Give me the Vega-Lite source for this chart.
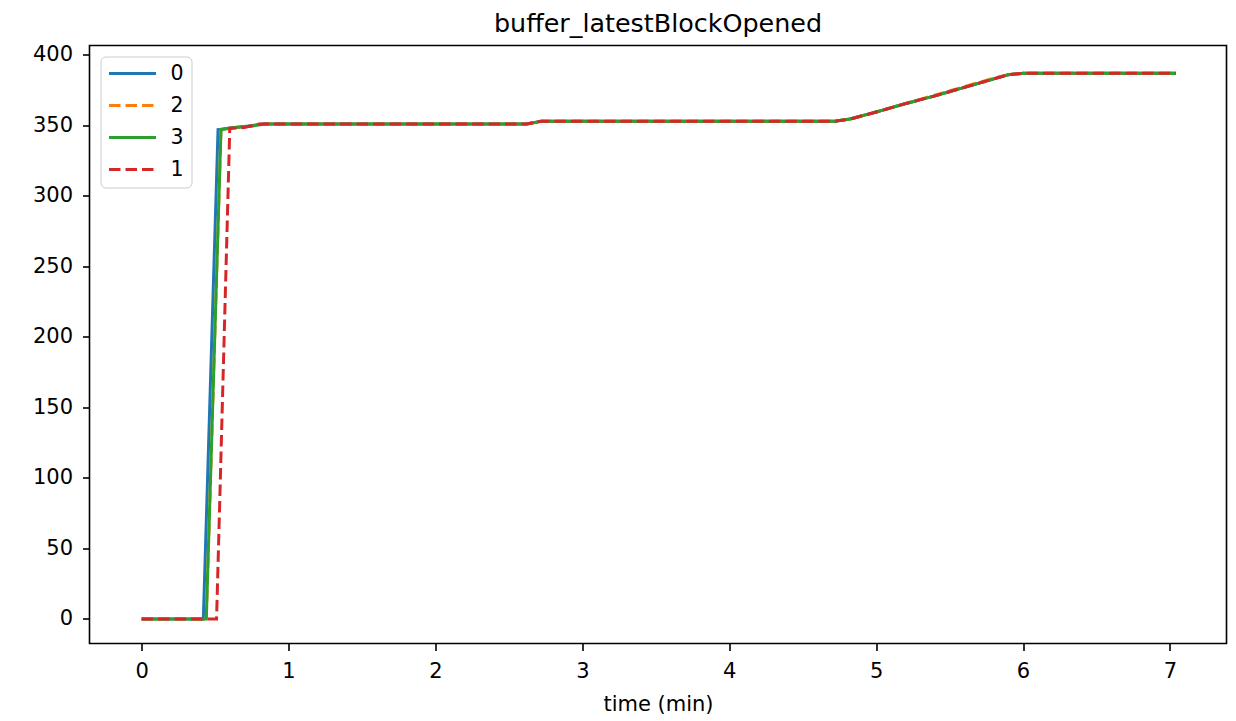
{
  "$schema": "https://vega.github.io/schema/vega-lite/v6.json",
  "width": 1137,
  "height": 598,
  "autosize": {"type": "none"},
  "padding": {"left": 89.5, "top": 45.5, "right": 9.5, "bottom": 77.5},
  "background": "white",
  "title": {"text": "buffer_latestBlockOpened", "font": "DejaVu Sans", "fontSize": 25.4, "fontWeight": "normal", "color": "black", "offset": 7},
  "config": {
    "view": {"stroke": "black", "strokeWidth": 1.6},
    "font": "DejaVu Sans",
    "axis": {"grid": false, "domain": false, "tickColor": "black", "tickSize": 7, "tickWidth": 1.6, "labelFont": "DejaVu Sans", "labelFontSize": 21, "labelColor": "black", "titleFont": "DejaVu Sans", "titleFontSize": 21, "titleFontWeight": "normal", "titleColor": "black", "labelPadding": 10, "titlePadding": 12}
  },
  "data": {"values": [
    {"t":0,"v":0,"s":"0"},{"t":0.42,"v":0,"s":"0"},{"t":0.52,"v":347,"s":"0"},{"t":0.62,"v":348.5,"s":"0"},{"t":0.72,"v":349.5,"s":"0"},{"t":0.82,"v":351,"s":"0"},{"t":2.62,"v":351,"s":"0"},{"t":2.72,"v":353,"s":"0"},{"t":4.72,"v":353,"s":"0"},{"t":4.82,"v":354.5,"s":"0"},{"t":5.0,"v":359.5,"s":"0"},{"t":5.2,"v":365.5,"s":"0"},{"t":5.4,"v":371,"s":"0"},{"t":5.6,"v":377,"s":"0"},{"t":5.8,"v":383,"s":"0"},{"t":5.9,"v":386,"s":"0"},{"t":6.0,"v":387,"s":"0"},{"t":7.04,"v":387,"s":"0"},
    {"t":0,"v":0,"s":"2"},{"t":0.44,"v":0,"s":"2"},{"t":0.54,"v":347,"s":"2"},{"t":0.64,"v":348.5,"s":"2"},{"t":0.74,"v":349.5,"s":"2"},{"t":0.84,"v":351,"s":"2"},{"t":2.62,"v":351,"s":"2"},{"t":2.72,"v":353,"s":"2"},{"t":4.72,"v":353,"s":"2"},{"t":4.82,"v":354.5,"s":"2"},{"t":5.0,"v":359.5,"s":"2"},{"t":5.2,"v":365.5,"s":"2"},{"t":5.4,"v":371.5,"s":"2"},{"t":5.6,"v":377.5,"s":"2"},{"t":5.8,"v":383.5,"s":"2"},{"t":5.9,"v":386,"s":"2"},{"t":6.0,"v":387,"s":"2"},{"t":7.04,"v":387,"s":"2"},
    {"t":0,"v":0,"s":"3"},{"t":0.44,"v":0,"s":"3"},{"t":0.54,"v":347,"s":"3"},{"t":0.64,"v":348.5,"s":"3"},{"t":0.74,"v":349.5,"s":"3"},{"t":0.84,"v":351,"s":"3"},{"t":2.62,"v":351,"s":"3"},{"t":2.72,"v":353,"s":"3"},{"t":4.72,"v":353,"s":"3"},{"t":4.82,"v":354.5,"s":"3"},{"t":5.0,"v":359.5,"s":"3"},{"t":5.2,"v":365.5,"s":"3"},{"t":5.4,"v":371,"s":"3"},{"t":5.6,"v":377,"s":"3"},{"t":5.8,"v":383,"s":"3"},{"t":5.9,"v":386,"s":"3"},{"t":6.0,"v":387,"s":"3"},{"t":7.04,"v":387,"s":"3"},
    {"t":0,"v":0,"s":"1"},{"t":0.51,"v":0,"s":"1"},{"t":0.6,"v":348,"s":"1"},{"t":0.7,"v":348.5,"s":"1"},{"t":0.8,"v":351,"s":"1"},{"t":2.62,"v":351,"s":"1"},{"t":2.72,"v":353,"s":"1"},{"t":4.72,"v":353,"s":"1"},{"t":4.82,"v":354.5,"s":"1"},{"t":5.0,"v":359.5,"s":"1"},{"t":5.2,"v":365.5,"s":"1"},{"t":5.4,"v":371,"s":"1"},{"t":5.6,"v":377,"s":"1"},{"t":5.8,"v":383,"s":"1"},{"t":5.9,"v":386,"s":"1"},{"t":6.0,"v":387,"s":"1"},{"t":7.04,"v":387,"s":"1"}
  ]},
  "mark": {"type": "line", "strokeWidth": 3, "clip": true},
  "encoding": {
    "x": {"field": "t", "type": "quantitative", "title": "time (min)", "scale": {"domain": [-0.355, 7.385], "nice": false, "zero": false}, "axis": {"values": [0,1,2,3,4,5,6,7], "format": "d"}},
    "y": {"field": "v", "type": "quantitative", "title": null, "scale": {"domain": [-17.4, 406.7], "nice": false, "zero": false}, "axis": {"values": [0,50,100,150,200,250,300,350,400], "format": "d"}},
    "color": {"field": "s", "type": "nominal", "scale": {"domain": ["0","2","3","1"], "range": ["#1f77b4","#ff7f0e","#2ca02c","#d62728"]}, "legend": {"title": null, "orient": "top-left", "offset": 10.5, "symbolType": "stroke", "symbolSize": 2209, "symbolStrokeWidth": 3, "clipHeight": 20, "rowPadding": 11, "labelFontSize": 20.5, "labelFont": "DejaVu Sans", "labelColor": "black", "labelOffset": 13, "strokeColor": "#cccccc", "fillColor": "white", "cornerRadius": 5, "padding": 7}},
    "strokeDash": {"field": "s", "type": "nominal", "scale": {"domain": ["0","2","3","1"], "range": [[1,0],[11.5,5],[1,0],[11.5,5]]}},
    "order": {"field": "s", "sort": "ascending"}
  }
}
